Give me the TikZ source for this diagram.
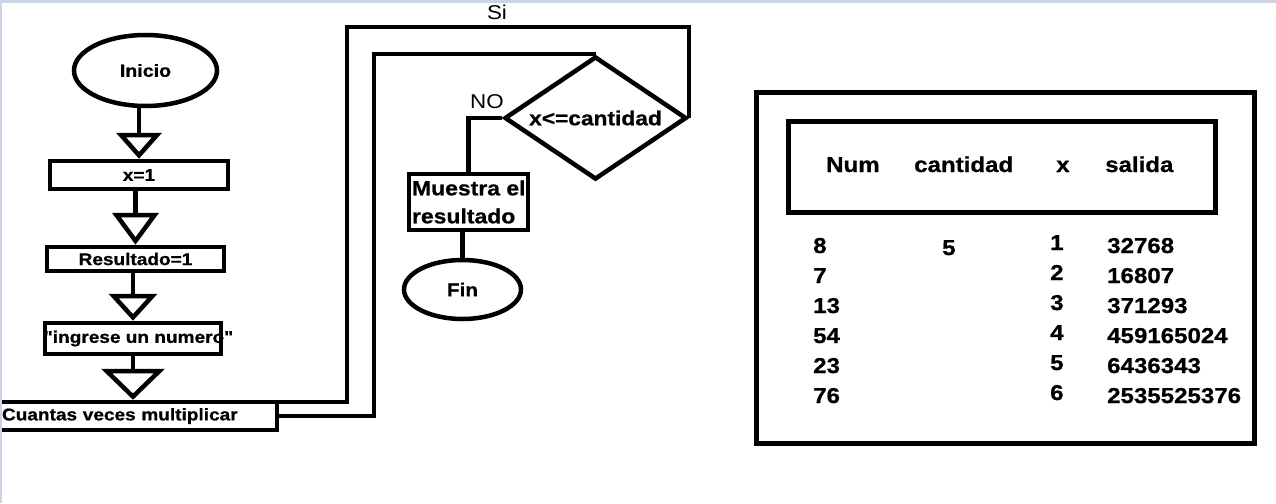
\documentclass[tikz,border=0pt]{standalone}
\usepackage{fontspec}
\setmainfont{Liberation Sans}[FakeStretch=1.12,Ligatures=TeXOff,BoldFeatures={FakeBold=0.8}]
\usetikzlibrary{arrows.meta,shapes.geometric}
\definecolor{paintblue}{RGB}{201,213,230}

\begin{document}
\begin{tikzpicture}[x=1pt,y=-1pt,
	flowline/.style={line width=4.5pt},
	flecha/.style 2 args={flowline,-{Triangle[open,length=#1,width=#2]}},
	proc/.style={draw,line width=4.5pt,rectangle,inner sep=0pt,font=\fontsize{17}{20}\selectfont\bfseries},
	term/.style={draw,line width=4.5pt,ellipse,inner sep=0pt},
	rotulo/.style={inner sep=0pt,font=\fontsize{20}{22}\selectfont},
	celda/.style={anchor=base west,inner sep=0pt,font=\fontsize{21.5}{24}\selectfont\bfseries},
	tablebox/.style={draw,line width=5pt,inner sep=0pt}]
	\useasboundingbox (0,0) rectangle (1276,503);
	\fill[white] (0,0) rectangle (1276,503);
	\node[term,minimum width=143pt,minimum height=71pt,font=\fontsize{17.5}{20}\selectfont\bfseries] (inicio) at (145.5,70.5) {Inicio};
	\node[proc,minimum width=178pt,minimum height=28pt] (xuno) at (139,175) {x=1};
	\node[proc,minimum width=177pt,minimum height=24pt] (resultado) at (135.5,259) {Resultado=1};
	\node[proc,minimum width=176pt,minimum height=31pt] (ingreso) at (133,338.5) {\makebox[0pt]{\hspace*{11pt}"ingrese un numero"}};
	\node[proc,minimum width=279pt,minimum height=28pt,text width=271pt,align=left,inner xsep=4pt] (cuantas) at (137.5,416) {Cuantas veces multiplicar};
	\node[draw,diamond,shape aspect=2,line width=4.5pt,inner sep=0pt,minimum width=182pt,minimum height=123pt,font=\fontsize{20.3}{22}\selectfont\bfseries] (decision) at (595.5,118) {x<=cantidad};
	\node[proc,minimum width=119pt,minimum height=56pt,align=left,font=\fontsize{20.5}{28}\selectfont\bfseries] (muestra) at (468.5,202) {\makebox[113pt][l]{Muestra el}\\resultado};
	\node[term,minimum width=117pt,minimum height=59pt,font=\fontsize{18.5}{22}\selectfont\bfseries] (fin) at (462.5,289.5) {Fin};
	\coordinate (vueltasi) at (347,27);
	\coordinate (vueltano) at (374,0);
	\draw[flecha={26pt}{45pt}] (xuno.north |- inicio.south) -- (xuno.north);
	\draw[flecha={32pt}{46pt}] (resultado.north |- xuno.south) -- (resultado.north);
	\draw[flecha={27pt}{48pt}] (ingreso.north |- resultado.south) -- (ingreso.north);
	\draw[flecha={31pt}{63pt}] (ingreso.south) -- (ingreso.south |- cuantas.north);
	\draw[flowline] ([yshift=14pt]cuantas.east) -| (vueltasi) -| (decision.east);
	\draw[flowline] (cuantas.east) -| (decision.north -| vueltano) -- (decision.north);
	\draw[flowline] (decision.west) -| (muestra.north);
	\draw[flowline] (fin.north |- muestra.south) -- (fin.north);
	\node[rotulo] (si) at (497,12) {Si};
	\node[rotulo] (no) at (487,102) {NO};
	\node[tablebox,minimum width=498pt,minimum height=351pt] (tabla) at (1005.5,268) {};
	\node[tablebox,minimum width=427pt,minimum height=91pt] (cabecera) at (1002,167) {};
	\node[celda] (hnum) at (826,172) {Num};
	\node[celda] (hcant) at (914,172) {cantidad};
	\node[celda] (hx) at (1056,172) {x};
	\node[celda] (hsal) at (1105,172) {salida};
	\foreach \num/\xv/\sal [count=\i] in {8/1/32768,7/2/16807,13/3/371293,54/4/459165024,23/5/6436343,76/6/2535525376}{
		\node[celda] (num\i) at (813,223+30*\i) {\num};
		\node[celda] (x\i) at (1050,220+30*\i) {\xv};
		\node[celda] (sal\i) at (1107,223+30*\i) {\sal};
	}
	\node[celda] (cant1) at (942,255) {5};
	\fill[paintblue] (0,0) rectangle (1276,3);
	\fill[paintblue] (0,0) rectangle (2,503);
\end{tikzpicture}
\end{document}
